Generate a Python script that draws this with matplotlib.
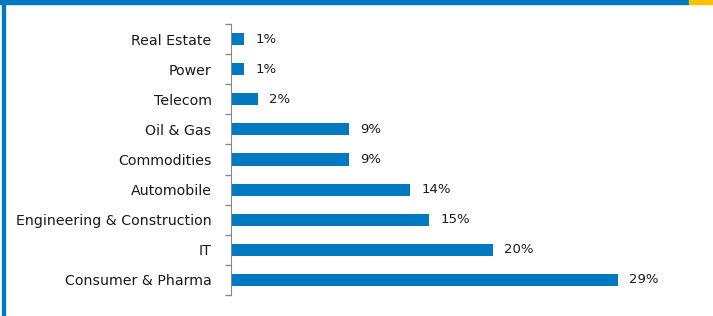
import matplotlib
matplotlib.use('Agg')
import matplotlib.pyplot as plt
from matplotlib.patches import Rectangle
import numpy as np

sectors = ['Real Estate', 'Power', 'Telecom', 'Oil & Gas', 'Commodities',
           'Automobile', 'Engineering & Construction', 'IT', 'Consumer & Pharma']
shares = [1.0, 1.0, 2.0, 8.9, 8.9, 13.5, 14.9, 19.7, 29.1]
labels = ['1%', '1%', '2%', '9%', '9%', '14%', '15%', '20%', '29%']

blue = '#0079C1'
yellow = '#FFC000'

fig = plt.figure(figsize=(7.13, 3.16), dpi=100)
# frame decorations
fig.patches.append(Rectangle((0, 1 - 4/316), 689/713, 4/316, transform=fig.transFigure, color=blue, zorder=0))
fig.patches.append(Rectangle((689/713, 1 - 4/316), 24/713, 4/316, transform=fig.transFigure, color=yellow, zorder=0))
fig.patches.append(Rectangle((2/713, 0), 3/713, 1, transform=fig.transFigure, color=blue, zorder=0))

ax = fig.add_axes([231/713, 21/316, 465/713, 271/316])
y = np.arange(len(sectors))
ax.barh(y, shares, height=0.4, color=blue)
for yi, v, lab in zip(y, shares, labels):
    ax.text(v + 0.85, yi, lab, va='center', ha='left', fontsize=9.5, color='#1a1a1a')

ax.set_ylim(len(sectors) - 0.5, -0.5)
ax.set_xlim(0, 35)
ax.set_yticks(y)
ax.set_yticklabels(sectors, fontsize=10.2, color='#1a1a1a')
ax.tick_params(axis='y', which='major', length=0, pad=14)
ax.set_yticks(np.arange(len(sectors) + 1) - 0.5, minor=True)
ax.tick_params(axis='y', which='minor', length=4, color='#888888', width=1)
ax.set_xticks([])
for s in ['top', 'right', 'bottom']:
    ax.spines[s].set_visible(False)
ax.spines['left'].set_color('#888888')

fig.savefig('out.png', dpi=100)
